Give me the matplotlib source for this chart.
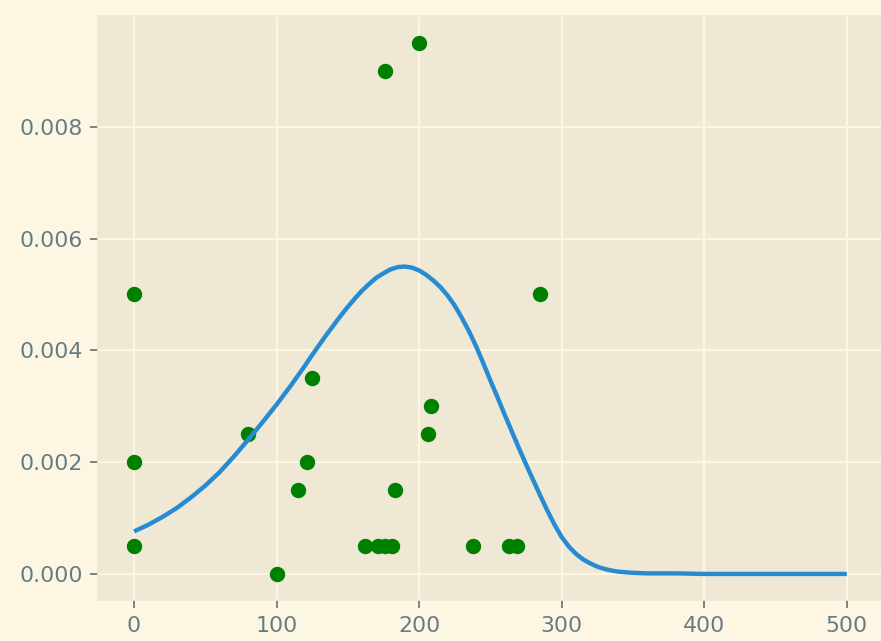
import matplotlib
matplotlib.use("Agg")
import matplotlib.pyplot as plt

# scatter points
point_x = [0, 0, 0, 80, 100, 115, 121, 125, 162, 171, 176, 181, 183,
           176, 200, 206, 208, 238, 263, 269, 285]
point_y = [0.005, 0.002, 0.0005, 0.0025, 0.0, 0.0015, 0.002, 0.0035,
           0.0005, 0.0005, 0.0005, 0.0005, 0.0015, 0.009, 0.0095,
           0.0025, 0.003, 0.0005, 0.0005, 0.0005, 0.005]

# fitted curve
curve_x = [0, 10, 20, 30, 40, 50, 60, 70, 80, 90, 100, 105, 110, 115, 120,
           125, 130, 135, 140, 145, 150, 155, 160, 165, 170, 175, 180, 185,
           190, 195, 200, 205, 210, 215, 220, 225, 230, 235, 240, 245, 250,
           255, 260, 265, 270, 275, 280, 285, 290, 295, 300, 305, 310, 315,
           320, 325, 330, 335, 340, 350, 360, 380, 400, 450, 500]
curve_y = [0.00076, 0.00088, 0.00102, 0.00118, 0.00137, 0.00158, 0.00182,
           0.00210, 0.00240, 0.00271, 0.00303, 0.00320, 0.00337, 0.00355,
           0.00373, 0.00392, 0.00410, 0.00428, 0.00445, 0.00462, 0.00478,
           0.00493, 0.00507, 0.00519, 0.00530, 0.00538, 0.00545, 0.00549,
           0.00550, 0.00548, 0.00543, 0.00535, 0.00525, 0.00513, 0.00498,
           0.00480, 0.00458, 0.00434, 0.00407, 0.00377, 0.00346, 0.00316,
           0.00285, 0.00255, 0.00225, 0.00196, 0.00168, 0.00140, 0.00113,
           0.00088, 0.00066, 0.00049, 0.00036, 0.00026, 0.00019, 0.00013,
           0.00009, 0.00006, 0.00004, 0.00002, 0.00001, 0.00001, 0.0, 0.0,
           0.0]

plt.style.use("Solarize_Light2")

fig = plt.figure(figsize=(881 / 158, 641 / 158), dpi=158)
ax = fig.add_axes([0.1117, 0.0632, 0.8899, 0.9112])

ax.plot(point_x, point_y, "go")
ax.plot(curve_x, curve_y)

ax.set_xticks([0, 100, 200, 300, 400, 500])
ax.set_yticks([0.0, 0.002, 0.004, 0.006, 0.008])

fig.savefig("out.png", dpi=158)
